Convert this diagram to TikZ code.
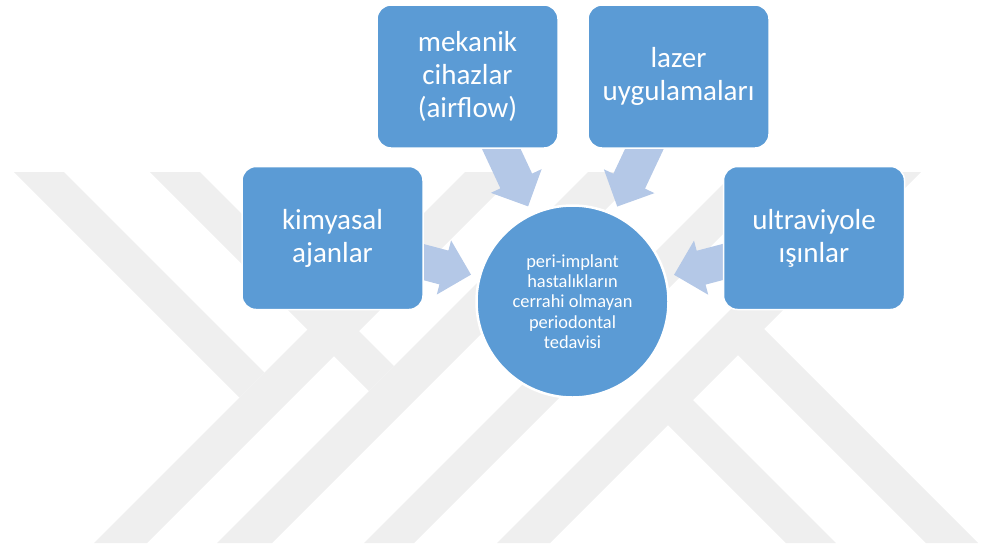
\documentclass[tikz,border=0pt]{standalone}
\usepackage{fontspec}
\setmainfont{Carlito}
\usetikzlibrary{calc,backgrounds,positioning}
\definecolor{boxblue}{RGB}{91,155,213}
\definecolor{arrblue}{RGB}{180,200,231}
\definecolor{wmgray}{RGB}{239,239,239}

\begin{document}
\begin{tikzpicture}[x=1pt,y=-1pt,
box/.style={rectangle,rounded corners=14pt,fill=boxblue,draw=white,line width=1.5pt,
 minimum width=181pt,minimum height=143pt,inner sep=0pt,text=white,align=center,
 font=\fontsize{29}{33}\selectfont},
hub/.style={circle,fill=boxblue,draw=white,line width=2.5pt,minimum size=192pt,
 inner sep=0pt,text=white,align=center,font=\fontsize{18.4}{20.4}\selectfont},
flow/.style={fill=arrblue}]

\useasboundingbox (0,0) rectangle (983,547);

\node[hub] (0) at (572.5,301.5) {peri-implant\\hastalıkların\\cerrahi olmayan\\periodontal\\tedavisi};
\node[box] (1) at (332.5,238) {kimyasal\\ajanlar};
\node[box] (2) at (467.5,76.5) {mekanik\\cihazlar\\(airflow)};
\node[box] (3) at (678.5,76.5) {lazer\\uygulamaları};
\node[box] (4) at (814,238) {ultraviyole\\ışınlar};

\begin{scope}[on background layer]
% watermark
\fill[wmgray] (14,172) -- (64,172) -- (264.5,372.5) -- (239.5,397.5) -- cycle;
\fill[wmgray] (94,543) -- (147,543) -- (518,172) -- (465,172) -- cycle;
\fill[wmgray] (150,172) -- (200,172) -- (394,366) -- (369,391) -- cycle;
\fill[wmgray] (217,543) -- (272,543) -- (643,172) -- (588,172) -- cycle;
\fill[wmgray] (364,543) -- (414,543) -- (785,172) -- (735,172) -- cycle;
\fill[wmgray] (497,543) -- (550,543) -- (921,172) -- (868,172) -- cycle;
\fill[wmgray] (654.5,411.5) -- (679.5,386.5) -- (836,543) -- (786,543) -- cycle;
\fill[wmgray] (724.5,341.5) -- (750.5,315.5) -- (978,543) -- (926,543) -- cycle;

% block arrows into the circle
\foreach \b in {1,...,4}{
  \coordinate (h) at ($(0)!133pt!(\b)$);
  \fill[flow] ($(\b)!17.5pt!90:(0)$) -- ($(h)!17.5pt!90:(0)$) -- ($(h)!28pt!90:(0)$)
    -- ($(0)!105pt!(\b)$)
    -- ($(h)!28pt!-90:(0)$) -- ($(h)!17.5pt!-90:(0)$) -- ($(\b)!17.5pt!-90:(0)$) -- cycle;
}
\end{scope}
\end{tikzpicture}
\end{document}
